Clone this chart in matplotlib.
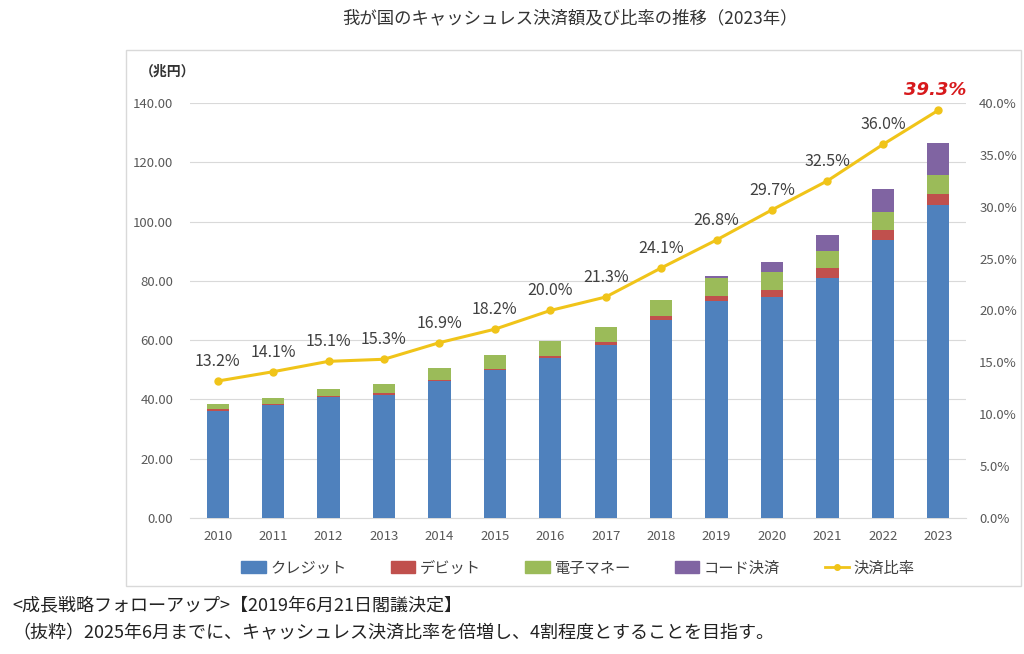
import numpy as np
import matplotlib.pyplot as plt
from matplotlib.patches import Rectangle
from matplotlib.lines import Line2D

plt.rcParams['font.family'] = ['Noto Sans CJK JP', 'DejaVu Sans']

# データ（兆円）
years = ['2010', '2011', '2012', '2013', '2014', '2015', '2016',
         '2017', '2018', '2019', '2020', '2021', '2022', '2023']
credit = [36.1, 38.1, 40.8, 41.6, 46.3, 49.8, 53.9, 58.4, 66.7, 73.3, 74.6, 81.0, 93.8, 105.6]
debit = [0.6, 0.5, 0.4, 0.6, 0.4, 0.6, 0.8, 0.9, 1.3, 1.7, 2.4, 3.2, 3.2, 3.7]
emoney = [1.6, 2.0, 2.4, 3.0, 4.0, 4.6, 5.1, 5.1, 5.5, 5.8, 6.0, 6.0, 6.1, 6.4]
code = [0, 0, 0, 0, 0, 0, 0, 0, 0.2, 0.9, 3.2, 5.4, 7.9, 10.9]
ratio = [13.2, 14.1, 15.1, 15.3, 16.9, 18.2, 20.0, 21.3, 24.1, 26.8, 29.7, 32.5, 36.0, 39.3]

c_credit = '#4F81BD'
c_debit = '#C0504D'
c_emoney = '#9BBB59'
c_code = '#8064A2'
c_line = '#F0C419'
gray = '#595959'

fig = plt.figure(figsize=(10.24, 6.54), dpi=100)
W, H = 1024, 654

# 外枠
fig.patches.append(Rectangle((126 / W, 1 - 586 / H), 895 / W, 536 / H,
                             transform=fig.transFigure, fill=False,
                             edgecolor='#D9D9D9', linewidth=1))

ax = fig.add_axes([190 / W, 1 - 518 / H, 776 / W, 415 / H])
x = np.arange(len(years))
w = 0.4

b1 = np.array(credit)
b2 = b1 + np.array(debit)
b3 = b2 + np.array(emoney)
ax.bar(x, credit, w, color=c_credit, zorder=3)
ax.bar(x, debit, w, bottom=b1, color=c_debit, zorder=3)
ax.bar(x, emoney, w, bottom=b2, color=c_emoney, zorder=3)
ax.bar(x, code, w, bottom=b3, color=c_code, zorder=3)

ax.set_xlim(-0.5, len(years) - 0.5)
ax.set_ylim(0, 140)
ax.set_yticks(np.arange(0, 141, 20))
ax.set_yticklabels([f'{v:.2f}' for v in np.arange(0, 141, 20)])
ax.set_xticks(x)
ax.set_xticklabels(years)
ax.grid(axis='y', color='#D9D9D9', linewidth=0.8, zorder=0)
for s in ['top', 'right', 'left']:
    ax.spines[s].set_visible(False)
ax.spines['bottom'].set_color('#D9D9D9')
ax.tick_params(axis='both', length=0, colors=gray, labelsize=9.5)
ax.tick_params(axis='x', pad=9)
ax.tick_params(axis='y', pad=12)

ax2 = ax.twinx()
ax2.plot(x, ratio, color=c_line, linewidth=2.2, marker='o', markersize=5, zorder=5)
ax2.set_ylim(0, 40)
ax2.set_yticks(np.arange(0, 41, 5))
ax2.set_yticklabels([f'{v:.1f}%' for v in np.arange(0, 41, 5)])
for s in ['top', 'right', 'left', 'bottom']:
    ax2.spines[s].set_visible(False)
ax2.tick_params(axis='y', length=0, colors=gray, labelsize=9.5, pad=9.5)

for i, r in enumerate(ratio):
    if i == len(ratio) - 1:
        ax2.annotate(f'{r:.1f}%', (x[i], r), xytext=(-2, 8), textcoords='offset points',
                     ha='center', va='bottom', fontsize=13, color='#D7191C',
                     fontweight='bold', fontstyle='italic', family='DejaVu Sans')
    else:
        ax2.annotate(f'{r:.1f}%', (x[i], r), xytext=(0, 8), textcoords='offset points',
                     ha='center', va='bottom', fontsize=11.5, color='#404040')

fig.text(570 / W, 1 - 18 / H, '我が国のキャッシュレス決済額及び比率の推移（2023年）',
         ha='center', va='center', fontsize=12.5, color='#333333')
fig.text(140 / W, 1 - 72 / H, '（兆円）', ha='left', va='center', fontsize=10,
         fontweight='bold', color='#333333')

handles = [Rectangle((0, 0), 1, 1, color=c_credit),
           Rectangle((0, 0), 1, 1, color=c_debit),
           Rectangle((0, 0), 1, 1, color=c_emoney),
           Rectangle((0, 0), 1, 1, color=c_code),
           Line2D([0], [0], color=c_line, marker='o', markersize=4, linewidth=2)]
labels = ['クレジット', 'デビット', '電子マネー', 'コード決済', '決済比率']
fig.legend(handles, labels, loc='center', bbox_to_anchor=(578 / W, 1 - 568 / H),
           ncol=5, frameon=False, fontsize=11, handlelength=1.6, handleheight=0.8,
           handletextpad=0.3, columnspacing=2.9, labelcolor='#404040')

fig.text(12 / W, 1 - 606 / H, '<成長戦略フォローアップ>【2019年6月21日閣議決定】',
         ha='left', va='center', fontsize=13, color='#222222')
fig.text(12 / W, 1 - 633 / H, '（抜粋）2025年6月までに、キャッシュレス決済比率を倍増し、4割程度とすることを目指す。',
         ha='left', va='center', fontsize=13, color='#222222')

fig.savefig('out.png', dpi=100)
